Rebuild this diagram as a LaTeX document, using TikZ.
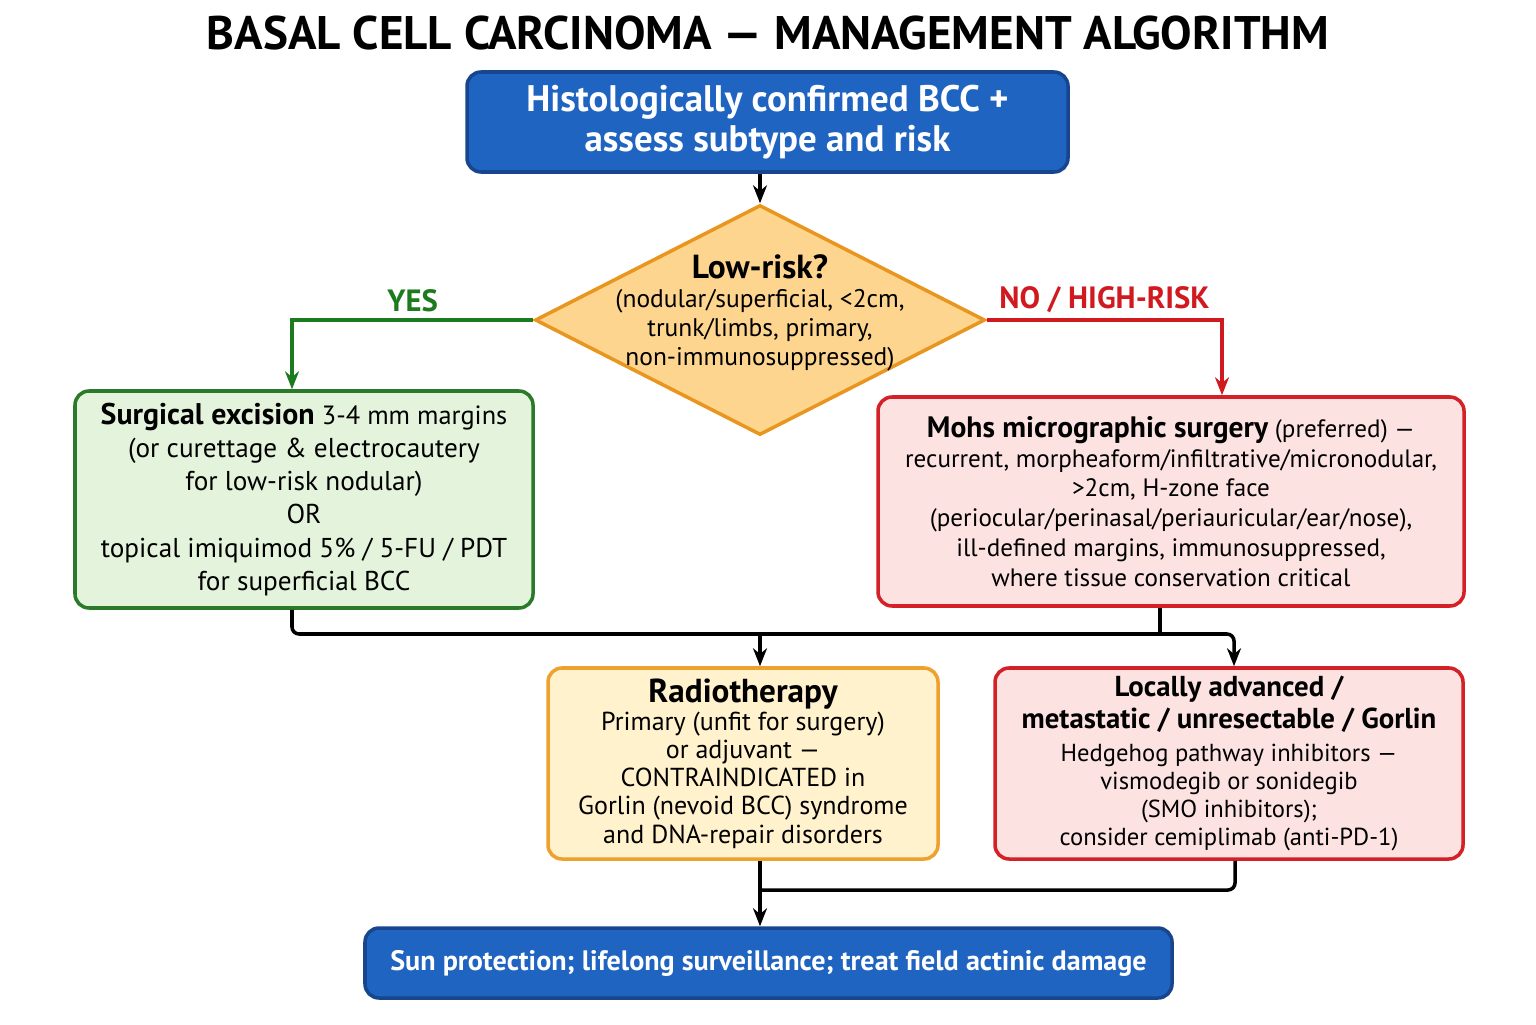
\documentclass[tikz,border=0pt]{standalone}
\usepackage{fontspec}
\setmainfont{PT Sans}
\usetikzlibrary{positioning, shapes.geometric, arrows.meta}

\definecolor{bccblue}{HTML}{1F64C0}
\definecolor{bccbluedark}{HTML}{17468F}
\definecolor{lowfill}{HTML}{E4F3DC}
\definecolor{lowline}{HTML}{2A7A2A}
\definecolor{highfill}{HTML}{FDE2E2}
\definecolor{highline}{HTML}{D42027}
\definecolor{rtfill}{HTML}{FFF2CC}
\definecolor{rtline}{HTML}{EFA12E}
\definecolor{askfill}{HTML}{FDD58E}
\definecolor{askline}{HTML}{E8961E}
\definecolor{yesgreen}{HTML}{1E7A1E}
\definecolor{nored}{HTML}{D01A1F}

\begin{document}
\begin{tikzpicture}[
                node distance = 0.8cm and 1cm,
                    box/.style = {draw, rounded corners=8pt, line width=2pt, align=center, inner sep=2pt},
                    bluebox/.style = {box, fill=bccblue, draw=bccbluedark, text=white, font=\bfseries\fontsize{21}{23}\selectfont},
                    decision/.style = {diamond, draw=askline, fill=askfill, line width=2pt, inner sep=0pt},
                    arrow/.style = {-{Stealth[length=3.6mm, width=2.8mm]}, line width=2pt},
                    line/.style = {line width=2pt},
                    branch/.style = {font=\bfseries\fontsize{17.5}{19}\selectfont}
                ]
                \useasboundingbox (0,0) rectangle (30.72,20.48);

                \node[font=\bfseries\fontsize{26.8}{28}\selectfont] (title) at (15.36,19.82) {BASAL CELL CARCINOMA — MANAGEMENT ALGORITHM};

                \node[bluebox, minimum width=12.02cm, minimum height=2cm] (confirm) at (15.35,18.04) {Histologically confirmed BCC +\\assess subtype and risk};

                \node[decision, minimum width=9cm, minimum height=4.6cm] (risk) at (15.2,14.08) {};
                \node[align=center, font=\fontsize{14.5}{16.5}\selectfont] (risktext) at (15.2,14.22) {{\bfseries\fontsize{19}{19}\selectfont Low-risk?}\\(nodular/superficial, <2cm,\\trunk/limbs, primary,\\non-immunosuppressed)};

                \node[box, fill=lowfill, draw=lowline, minimum width=9.16cm, minimum height=4.34cm, font=\fontsize{15.5}{18.8}\selectfont] (surgery) at (6.08,10.49) {{\bfseries\fontsize{17}{18.8}\selectfont Surgical excision} {\fontsize{15}{18.8}\selectfont 3-4 mm margins}\\(or curettage \& electrocautery\\for low-risk nodular)\\OR\\topical imiquimod 5\% / 5-FU / PDT\\for superficial BCC};

                \node[box, fill=highfill, draw=highline, minimum width=11.72cm, minimum height=4.18cm, font=\fontsize{14.3}{17}\selectfont] (mohs) at (23.42,10.45) {{\bfseries\fontsize{16.8}{19}\selectfont Mohs micrographic surgery} (preferred) —\\recurrent, morpheaform/infiltrative/micronodular,\\>2cm, H-zone face\\(periocular/perinasal/periauricular/ear/nose),\\ill-defined margins, immunosuppressed,\\where tissue conservation critical};

                \node[box, fill=rtfill, draw=rtline, minimum width=7.8cm, minimum height=3.82cm, font=\fontsize{14.8}{16}\selectfont] (radio) at (14.86,5.21) {{\bfseries\fontsize{18.9}{19}\selectfont Radiotherapy}\\Primary (unfit for surgery)\\or adjuvant —\\CONTRAINDICATED in\\Gorlin (nevoid BCC) syndrome\\and DNA-repair disorders};

                \node[box, fill=highfill, draw=highline, minimum width=9.36cm, minimum height=3.82cm, font=\fontsize{14}{16}\selectfont] (advanced) at (24.58,5.21) {{\bfseries\fontsize{16.4}{18.2}\selectfont Locally advanced /}\\[2.5pt]{\bfseries\fontsize{16.4}{18.2}\selectfont metastatic / unresectable / Gorlin}\\[2.5pt]Hedgehog pathway inhibitors —\\vismodegib or sonidegib\\(SMO inhibitors);\\consider cemiplimab (anti-PD-1)};

                \node[bluebox, minimum width=16.14cm, minimum height=1.4cm, font=\bfseries\fontsize{16}{18}\selectfont] (care) at (15.37,1.22) {Sun protection; lifelong surveillance; treat field actinic damage};

                \coordinate (split) at (15.2,7.8);
                \coordinate (join) at (15.2,2.68);

                \draw[arrow] (confirm.south -| risk.north) -- (risk.north);
                \draw[arrow, draw=yesgreen, -{Stealth[length=3.6mm, width=2.8mm, fill=yesgreen]}] (risk.west) -| node[branch, above, pos=0.25, text=yesgreen] {YES} ([xshift=-2.4mm]surgery.north);
                \draw[arrow, draw=nored, -{Stealth[length=3.6mm, width=2.8mm, fill=nored]}] (risk.east) -| node[branch, above, pos=0.25, text=nored] {NO / HIGH-RISK} ([xshift=10.2mm]mohs.north);

                \draw[arrow, rounded corners=4pt] ([xshift=-2.4mm]surgery.south) |- (split) -| ([xshift=1mm]advanced.north);
                \draw[line] ([xshift=-2.2mm]mohs.south) -- ([xshift=-2.2mm]mohs.south |- split);
                \draw[arrow] (split) -- (split |- radio.north);

                \draw[line, rounded corners=4pt] ([xshift=1.2mm]advanced.south) |- (join);
                \draw[arrow] (radio.south -| join) -- (join |- care.north);

            \end{tikzpicture}
\end{document}
